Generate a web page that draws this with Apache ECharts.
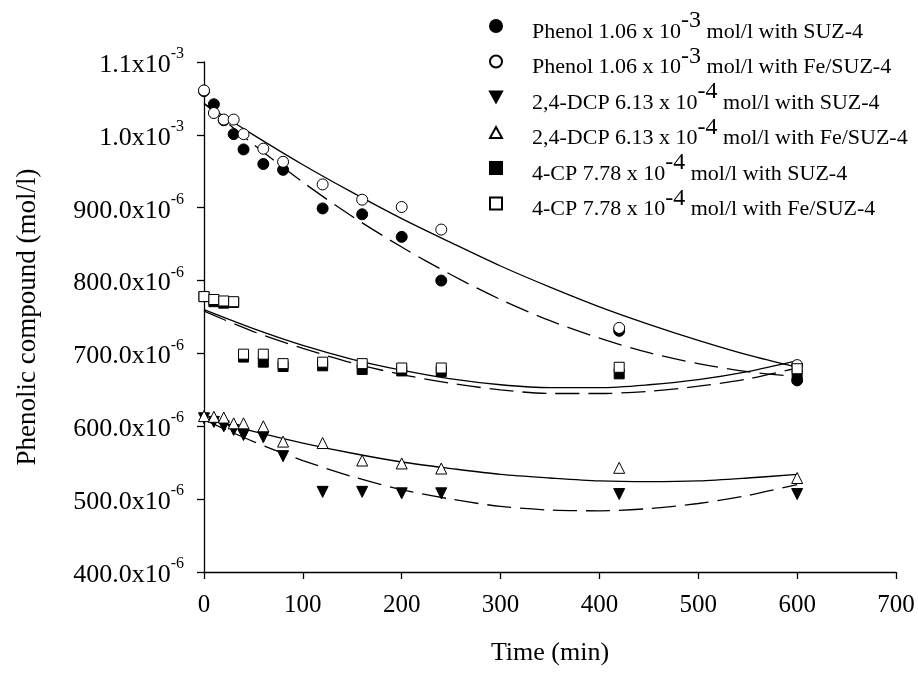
<!DOCTYPE html>
<html>
<head>
<meta charset="utf-8">
<script src="https://cdn.jsdelivr.net/npm/echarts@6/dist/echarts.min.js"></script>
<style>
html,body{margin:0;padding:0;background:#fff;}
#chart{width:918px;height:673px;}
</style>
</head>
<body>
<div id="chart"></div>
<script>
// Sampling times (min)
const times = [0, 10, 20, 30, 40, 60, 80, 120, 160, 200, 240, 420, 600];
// Concentrations in units of 1e-6 mol/l
const phenolSuz = [1060, 1042, 1020, 1001, 980, 960, 952, 899, 891, 860, 800, 731, 663];
const phenolFe  = [1061, 1030, 1021, 1021, 1001, 981, 963, 932, 911, 901, 870, 735, 684];
const dcpSuz    = [611, 606, 600, 595, 588, 585, 559, 510, 510, 508, 508, 507, 507];
const dcpFe     = [614, 613, 612, 604, 604, 600, 579, 577, 553, 549, 542, 543, 529];
const cpSuz     = [778, 771, 769, 770, 695, 688, 682, 683, 678, 676, 675, 672, 672];
const cpFe      = [778, 774, 772, 771, 699, 699, 686, 688, 686, 680, 680, 681, 679];

// Trend curves (every 50 min)
const fitTimes     = [0, 50, 100, 150, 200, 250, 300, 350, 400, 450, 500, 550, 600];
const phenolSuzFit = [1043, 987, 935, 888, 846, 808, 774, 745, 721, 701, 686, 675, 668];
const phenolFeFit  = [1043, 1000, 959, 921, 885, 852, 820, 791, 764, 740, 718, 698, 681];
const dcpSuzFit    = [609, 579, 553, 531, 513, 500, 490, 485, 484, 487, 494, 505, 520];
const dcpFeFit     = [611, 593, 577, 563, 551, 542, 534, 529, 525, 524, 525, 529, 534];
const cpSuzFit     = [758, 730, 707, 687, 671, 659, 650, 645, 645, 648, 655, 665, 680];
const cpFeFit      = [760, 734, 711, 692, 677, 665, 657, 653, 653, 657, 664, 675, 690];

const seriesNames = [
  'Phenol 1.06 x 10-3 mol/l with SUZ-4',
  'Phenol 1.06 x 10-3 mol/l with Fe/SUZ-4',
  '2,4-DCP 6.13 x 10-4 mol/l with SUZ-4',
  '2,4-DCP 6.13 x 10-4 mol/l with Fe/SUZ-4',
  '4-CP 7.78 x 10-4 mol/l with SUZ-4',
  '4-CP 7.78 x 10-4 mol/l with Fe/SUZ-4'
];
const legendParts = [
  ['Phenol 1.06 x 10', '-3', ' mol/l with SUZ-4'],
  ['Phenol 1.06 x 10', '-3', ' mol/l with Fe/SUZ-4'],
  ['2,4-DCP 6.13 x 10', '-4', ' mol/l with SUZ-4'],
  ['2,4-DCP 6.13 x 10', '-4', ' mol/l with Fe/SUZ-4'],
  ['4-CP 7.78 x 10', '-4', ' mol/l with SUZ-4'],
  ['4-CP 7.78 x 10', '-4', ' mol/l with Fe/SUZ-4']
];
const yMin = 400, yMax = 1100, yStep = 100;
const xMin = 0, xMax = 700, xStep = 100;

const downTri = 'path://M0,0 L10,0 L5,9 Z';
const upTri = 'path://M5,0 L10,9 L0,9 Z';
const FONT = '"Liberation Serif", "Times New Roman", serif';

function pairs(xs, ys) { return xs.map((x, i) => [x, ys[i]]); }

const filled = {color: '#000', borderColor: '#000', borderWidth: 1, opacity: 1};
const open = {color: '#fff', borderColor: '#000', borderWidth: 1, opacity: 1};

function scatter(name, data, symbol, size, style) {
  return {name, type: 'scatter', data: pairs(times, data), symbol, symbolSize: size,
    itemStyle: style, z: 3, emphasis: {disabled: true}};
}
function fit(data, dashed) {
  return {type: 'line', data: pairs(fitTimes, data), smooth: 0.3, showSymbol: false, symbol: 'none',
    lineStyle: {color: '#000', width: 1.3, type: dashed ? [24, 9] : 'solid'}, z: 2,
    emphasis: {disabled: true}, silent: true};
}

const chart = echarts.init(document.getElementById('chart'), null, {renderer: 'canvas'});
chart.setOption({
  animation: false,
  backgroundColor: '#fff',
  grid: {left: 204, right: 22, top: 62, bottom: 101},
  legend: {
    orient: 'vertical', left: 484, top: 4, itemGap: 1.5,
    itemWidth: 12, itemHeight: 12,
    data: seriesNames,
    formatter: function (name) {
      const p = legendParts[seriesNames.indexOf(name)];
      return '{sp|}{b|' + p[0] + '}{s|' + p[1] + '}{b|' + p[2] + '}';
    },
    textStyle: {
      fontFamily: FONT, color: '#000',
      rich: {
        sp: {width: 25, lineHeight: 34},
        b: {fontFamily: FONT, fontSize: 22, color: '#000', lineHeight: 34, verticalAlign: 'bottom'},
        s: {fontFamily: FONT, fontSize: 24, color: '#000', lineHeight: 34, verticalAlign: 'top'}
      }
    }
  },
  xAxis: {
    type: 'value', min: xMin, max: xMax, interval: xStep,
    name: 'Time (min)', nameLocation: 'middle', nameGap: 68,
    nameTextStyle: {fontFamily: FONT, fontSize: 26, color: '#000'},
    axisLine: {show: true, onZero: false, lineStyle: {color: '#000', width: 1.3}},
    axisTick: {show: true, length: 7, inside: false, lineStyle: {color: '#000', width: 1.3}},
    axisLabel: {fontFamily: FONT, fontSize: 25, color: '#000', margin: 21},
    splitLine: {show: false}
  },
  yAxis: {
    type: 'value', min: yMin, max: yMax, interval: yStep,
    name: 'Phenolic compound (mol/l)', nameLocation: 'middle', nameGap: 163,
    nameTextStyle: {fontFamily: FONT, fontSize: 27, color: '#000'},
    axisLine: {show: true, onZero: false, lineStyle: {color: '#000', width: 1.3}},
    axisTick: {show: true, length: 7, inside: false, lineStyle: {color: '#000', width: 1.3}},
    axisLabel: {
      margin: 20,
      formatter: function (v) {
        if (v >= 1000) return '{b|' + (v / 1000).toFixed(1) + 'x10}{s|-3}';
        return '{b|' + v.toFixed(1) + 'x10}{s|-6}';
      },
      rich: {
        b: {fontFamily: FONT, fontSize: 26, color: '#000', lineHeight: 32, verticalAlign: 'bottom'},
        s: {fontFamily: FONT, fontSize: 16, color: '#000', lineHeight: 32, verticalAlign: 'top'}
      }
    },
    splitLine: {show: false}
  },
  series: [
    fit(phenolSuzFit, true), fit(phenolFeFit, false),
    fit(dcpSuzFit, true), fit(dcpFeFit, false),
    fit(cpSuzFit, true), fit(cpFeFit, false),
    scatter(seriesNames[0], phenolSuz, 'circle', 11, filled),
    scatter(seriesNames[1], phenolFe, 'circle', 11, open),
    scatter(seriesNames[2], dcpSuz, downTri, 11, filled),
    scatter(seriesNames[3], dcpFe, upTri, 11, open),
    scatter(seriesNames[4], cpSuz, 'rect', 10, filled),
    scatter(seriesNames[5], cpFe, 'rect', 10, open)
  ]
});
</script>
</body>
</html>
